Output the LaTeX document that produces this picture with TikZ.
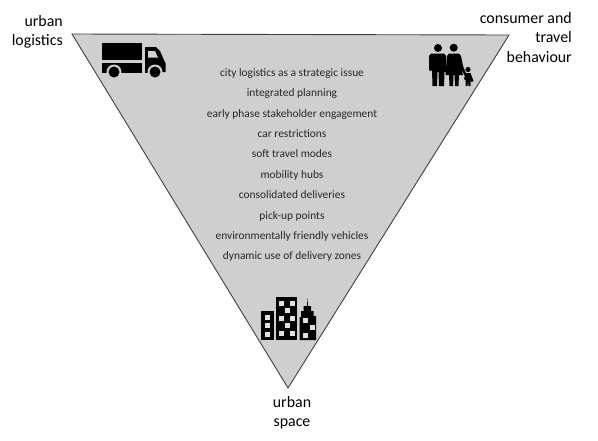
\documentclass[tikz,border=0pt]{standalone}
\usepackage{fontspec}
\setmainfont{Carlito}
\usetikzlibrary{positioning}

\begin{document}
\begin{tikzpicture}[
  x=1pt, y=-1pt,
  item/.style={inner sep=0pt, outer sep=0pt, text height=8pt, text depth=2.5pt, minimum height=20.4pt, font=\fontsize{11.4}{13}\selectfont, text=black!85},
  corner/.style={inner sep=0pt, align=right, font=\fontsize{15.9}{19.6}\selectfont, text=black},
  icon/.style={fill=black, draw=none},
  pane/.style={fill=black!12, draw=none}
]
\useasboundingbox (0,0) rectangle (598,440);
\coordinate (left) at (72,34);
\coordinate (right) at (509,35);
\coordinate (tip) at (288,388);
\draw[fill=black!19, draw=black!75, line width=0.9pt, line join=miter] (left) -- (right) -- (tip) -- cycle;
% corner labels
\node[corner, anchor=north east] (logistics) at (63,15) {urban\\logistics};
\node[corner, anchor=north east] (behaviour) at (572,12) {consumer and\\travel\\behaviour};
\node[corner, align=center, anchor=north] (space) at (292,396) {urban\\space};
% measures
\node[item] (strategic) at (292,73.6) {city logistics as a strategic issue};
\node[item, below=0pt of strategic] (planning) {integrated planning};
\node[item, below=0pt of planning] (engagement) {early phase stakeholder engagement};
\node[item, below=0pt of engagement] (restrictions) {car restrictions};
\node[item, below=0pt of restrictions] (soft) {soft travel modes};
\node[item, below=0pt of soft] (hubs) {mobility hubs};
\node[item, below=0pt of hubs] (deliveries) {consolidated deliveries};
\node[item, below=0pt of deliveries] (pickup) {pick-up points};
\node[item, below=0pt of pickup] (vehicles) {environmentally friendly vehicles};
\node[item, below=0pt of vehicles] (zones) {dynamic use of delivery zones};
% truck
\fill[icon] (102,43) rectangle (142,60);
\fill[icon] (102,63) rectangle (142,73);
\fill[icon] (145,47) -- (156,47) -- (160,51) -- (164,60) -- (165.5,63) -- (165.5,72) -- (145,73) -- cycle;
\fill[black!18] (148,51) -- (155,51) -- (158,57.5) -- (148,57.5) -- cycle;
\foreach \cx in {114,155} {
  \fill[black!19] (\cx,72) circle (7.5);
  \fill[icon] (\cx,72) circle (5.5);
}
% family
\fill[icon] (438,48) circle (4);
\fill[icon] (453.7,47.7) circle (4);
\fill[icon] (468,69.5) circle (2.6);
\fill[icon] (431,53.5) -- (444,53.5) -- (446,56) -- (446,72) -- (444.5,72) -- (444,86) -- (439,86) -- (438.5,72) -- (437.5,72) -- (437,86) -- (432.5,86) -- (432,70) -- (431,71) -- (429,70) -- (429,56) -- cycle;
\fill[icon] (449,53.5) -- (459,53.5) -- (461,56) -- (463,66) -- (467,76) -- (465.5,77) -- (461,69) -- (463,75) -- (459,75) -- (458.5,86) -- (455,86) -- (454.5,75) -- (453.5,75) -- (453,86) -- (449.5,86) -- (449,75) -- (445.5,75) -- (447,56) -- cycle;
\fill[icon] (465.5,73) -- (470.5,73) -- (473.5,81) -- (471.5,82) -- (470.5,79) -- (470.5,86) -- (468.5,86) -- (468,81.5) -- (467.5,86) -- (465.5,86) -- (465.5,80) -- (464,79) -- cycle;
% city
\fill[icon] (261,311) rectangle (273.5,340);
\fill[icon] (276,296.5) rectangle (296.5,340);
\fill[icon] (299.5,340) -- (299.5,317) -- (301,317) -- (301,311) -- (303.5,311) -- (303.5,306) -- (307,306) -- (307.5,298) -- (308,306) -- (311,306) -- (311,311) -- (313.5,311) -- (313.5,316) -- (316,316) -- (316,340) -- cycle;
\foreach \wy in {315,323,332} {
  \fill[pane] (264.5,\wy) rectangle +(5,4.5);
}
\foreach \wx/\wy in {279/301,290/301,285/308,279/316,290/316,285/323,279/331,290/331} {
  \fill[pane] (\wx,\wy) rectangle +(5,4.5);
}
\foreach \wx/\wy in {302.5/318,310/325,302.5/333} {
  \fill[pane] (\wx,\wy) rectangle +(5,4.5);
}
\end{tikzpicture}
\end{document}
